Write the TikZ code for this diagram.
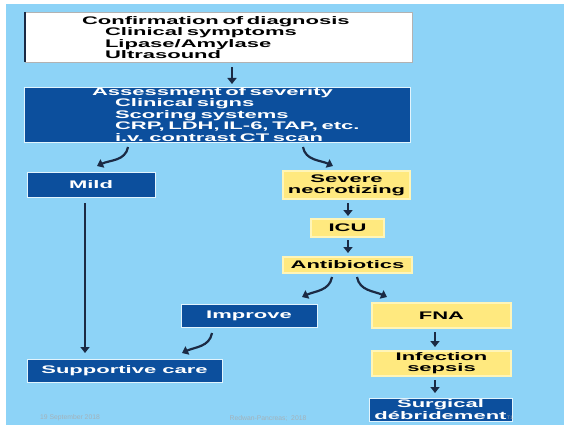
\documentclass[tikz,border=0pt]{standalone}
\usepackage{fontspec}
\usepackage{tikz}
\usetikzlibrary{arrows.meta}
\newfontfamily\slidefont{Liberation Sans}[FakeStretch=2.0]
\newfontfamily\footfont{Liberation Sans}
\definecolor{skyback}{HTML}{8DD3F7}
\definecolor{darkbox}{HTML}{0C4F9D}
\definecolor{yellowbox}{HTML}{FFE97F}
\definecolor{yellowrim}{HTML}{FFF5B8}
\definecolor{arrowink}{HTML}{1B2A44}
\definecolor{footgray}{HTML}{A3B2BA}
\newcommand*{\ind}[1]{\hspace*{#1pt}}

\begin{document}
\begin{tikzpicture}[x=1pt, y=-1pt,
    every node/.style = {inner sep=0pt, outer sep=0pt},
    txt/.style    = {font=\slidefont\bfseries\fontsize{11}{11.5}\selectfont},
    whitebox/.style = {txt, fill=white, draw=gray!60, text=black},
    bluebox/.style  = {txt, fill=darkbox, draw=white!75!skyback,
                       line width=0.8pt, text=white, align=center},
    yelbox/.style   = {txt, fill=yellowbox, draw=yellowrim,
                       line width=1.4pt, text=black, align=center},
    arr/.style    = {draw=arrowink, line width=2.2pt,
                     -{Triangle[length=6pt,width=9pt]}},
    foot/.style   = {font=\footfont\fontsize{6.8}{6.8}\selectfont, text=footgray}
  ]
  \useasboundingbox (0,0) rectangle (564,425);
  \fill[white] (0,0) rectangle (564,425);
  \fill[skyback] (6,4) rectangle (564,425);

  % left column
  \node[whitebox, minimum width=387pt, minimum height=50pt,
        text width=387pt, align=left] (diag) at (218.5,37.5)
    {\ind{57}Confirmation of diagnosis\\
     \ind{80}Clinical symptoms\\
     \ind{80}Lipase/Amylase\\
     \ind{80}Ultrasound};
  \draw[arrowink, line width=1.2pt] (diag.north west) -- (diag.south west);
  \node[bluebox, minimum width=386pt, minimum height=55pt,
        text width=386pt, align=left] (severity) at (217,114.5)
    {\ind{68}Assessment of severity\\
     \ind{91}Clinical signs\\
     \ind{91}Scoring systems\\
     \ind{91}CRP, LDH, IL-6, TAP, etc.\\
     \ind{91}i.v. contrast CT scan};
  \node[bluebox, minimum width=128pt, minimum height=25pt] (mild) at (91,184.5) {Mild};
  \node[bluebox, minimum width=195pt, minimum height=23pt] (support) at (124.5,370.5)
    {Supportive care};

  % right column
  \node[yelbox, minimum width=127pt, minimum height=28pt,
        font=\slidefont\bfseries\fontsize{11}{11}\selectfont] (severe) at (346.5,185)
    {Severe\\necrotizing};
  \node[yelbox, minimum width=73pt, minimum height=18pt] (icu) at (347.5,228) {ICU};
  \node[yelbox, minimum width=129pt, minimum height=16pt] (antibio) at (347.5,265)
    {Antibiotics};
  \node[bluebox, minimum width=136pt, minimum height=23pt] (improve) at (249,315.5)
    {Improve};
  \node[yelbox, minimum width=139pt, minimum height=25pt] (fna) at (441.5,315.5) {FNA};
  \node[yelbox, minimum width=139pt, minimum height=25pt,
        font=\slidefont\bfseries\fontsize{11}{11}\selectfont] (sepsis) at (441.5,363.5)
    {Infection\\sepsis};
  \node[bluebox, minimum width=143pt, minimum height=23pt,
        font=\slidefont\bfseries\fontsize{11}{12}\selectfont] (debride) at (440.5,409.5)
    {Surgical\\débridement};

  % connectors
  \draw[arr] ([xshift=13.5pt,yshift=-5pt]diag.south)
          -- ([xshift=15pt,yshift=3pt]severity.north);
  \draw[arr] ([xshift=-89pt,yshift=-5pt]severity.south)
          to[out=-100, in=25] ([xshift=6pt,yshift=6pt]mild.north);
  \draw[arr] ([xshift=86pt,yshift=-5pt]severity.south)
          to[out=-80, in=155] ([xshift=-13.5pt,yshift=5pt]severe.north);
  \draw[arr] ([xshift=-6pt,yshift=-6pt]mild.south)
          -- ([xshift=-39.5pt,yshift=6pt]support.north);
  \draw[arr] ([xshift=1.5pt,yshift=-4pt]severe.south)
          -- ([xshift=0.5pt,yshift=3pt]icu.north);
  \draw[arr] ([xshift=0.5pt,yshift=-3pt]icu.south)
          -- ([xshift=0.5pt,yshift=4pt]antibio.north);
  \draw[arr] ([xshift=-15.5pt,yshift=-4pt]antibio.south)
          to[out=-100, in=25] ([xshift=53pt,yshift=7pt]improve.north);
  \draw[arr] ([xshift=9.5pt,yshift=-4pt]antibio.south)
          to[out=-80, in=155] ([xshift=-54.5pt,yshift=6pt]fna.north);
  \draw[arr] ([xshift=-37pt,yshift=-6pt]improve.south)
          to[out=-100, in=25] ([xshift=57.5pt,yshift=6pt]support.north);
  \draw[arr] ([xshift=-6.5pt,yshift=-4pt]fna.south)
          -- ([xshift=-6.5pt,yshift=4pt]sepsis.north);
  \draw[arr] ([xshift=-6.5pt,yshift=-4pt]sepsis.south)
          -- ([xshift=-5.5pt,yshift=5pt]debride.north);

  % footer
  \node[foot] (date) at (70,418) {19 September 2018};
  \node[foot] (source) at (268,418) {Redwan-Pancreas;\ \ 2018};
  \node[foot, text=gray!80, font=\footfont\fontsize{5}{5}\selectfont] (slideno) at (510,418) {T1};
\end{tikzpicture}
\end{document}
